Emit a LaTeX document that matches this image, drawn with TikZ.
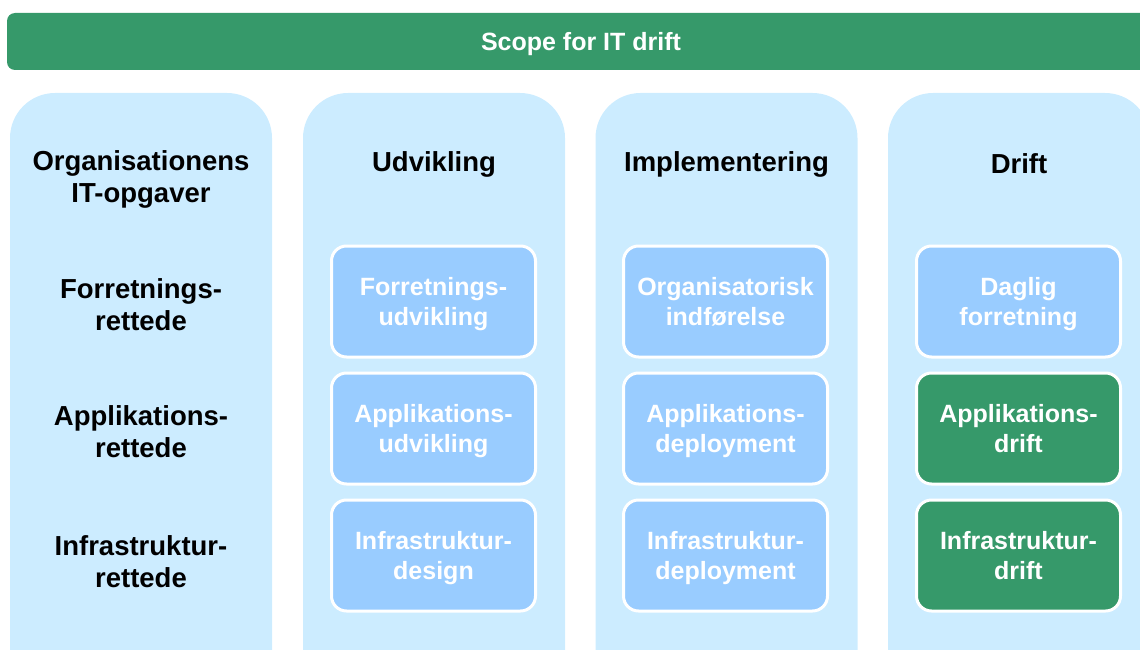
\documentclass[tikz,border=0pt]{standalone}
\usepackage{fontspec}
\setmainfont{Liberation Sans}
\usetikzlibrary{positioning}
\definecolor{scopegreen}{HTML}{36996A}
\definecolor{colblue}{HTML}{CCECFF}
\definecolor{boxblue}{HTML}{99CCFF}

\begin{document}
\begin{tikzpicture}[x=1pt,y=-1pt]
        \tikzset{col/.style={fill=colblue, rounded corners=45pt, minimum width=262pt, minimum height=620pt, inner sep=0pt}}
        \tikzset{head/.style={font=\fontsize{27.5}{32}\selectfont\bfseries, align=center}}
        \tikzset{taskbox/.style={fill=boxblue, draw=white, line width=3pt, rounded corners=15pt, minimum width=204pt, minimum height=111pt, inner sep=0pt, text depth=0pt, text=white, align=center, font=\fontsize{25}{30}\selectfont\bfseries}}
        \tikzset{runbox/.style={taskbox, fill=scopegreen}}
        \tikzset{node distance=13pt}
        \useasboundingbox (0,0) rectangle (1140,650);
        \clip (0,0) rectangle (1140,650);
        % scope bar
        \node[fill=scopegreen, rounded corners=8pt, minimum width=1148pt, minimum height=57pt, text depth=0pt, text=white, font=\fontsize{25}{28}\selectfont\bfseries] (scope) at (581,41.5) {Scope for IT drift};
        % columns
        \node[col] (org) at (141,403) {};
        \node[col] (udv) at (434,403) {};
        \node[col] (impl) at (726.5,403) {};
        \node[col] (drift) at (1019,403) {};
        % column heads
        \node[head] (orghead) at (141,179) {Organisationens\\IT-opgaver};
        \node[head] (udvhead) at (434,164) {Udvikling};
        \node[head] (implhead) at (726.5,164) {Implementering};
        \node[head] (drifthead) at (1019,164) {Drift};
        % row labels
        \node[head] (forr) at (141,305) {Forretnings-\\rettede};
        \node[head] (appl) at (141,432) {Applikations-\\rettede};
        \node[head] (infra) at (141,561.5) {Infrastruktur-\\rettede};
        % udvikling
        \node[taskbox] (udv1) at (433.5,301.5) {Forretnings-\\udvikling};
        \node[taskbox, below=of udv1] (udv2) {Applikations-\\udvikling};
        \node[taskbox, below=of udv2] (udv3) {Infrastruktur-\\design};
        % implementering
        \node[taskbox] (impl1) at (725.5,301.5) {Organisatorisk\\indførelse};
        \node[taskbox, below=of impl1] (impl2) {Applikations-\\deployment};
        \node[taskbox, below=of impl2] (impl3) {Infrastruktur-\\deployment};
        % drift
        \node[taskbox] (drift1) at (1018.5,301.5) {Daglig\\forretning};
        \node[runbox, below=of drift1] (drift2) {Applikations-\\drift};
        \node[runbox, below=of drift2] (drift3) {Infrastruktur-\\drift};
\end{tikzpicture}
\end{document}
